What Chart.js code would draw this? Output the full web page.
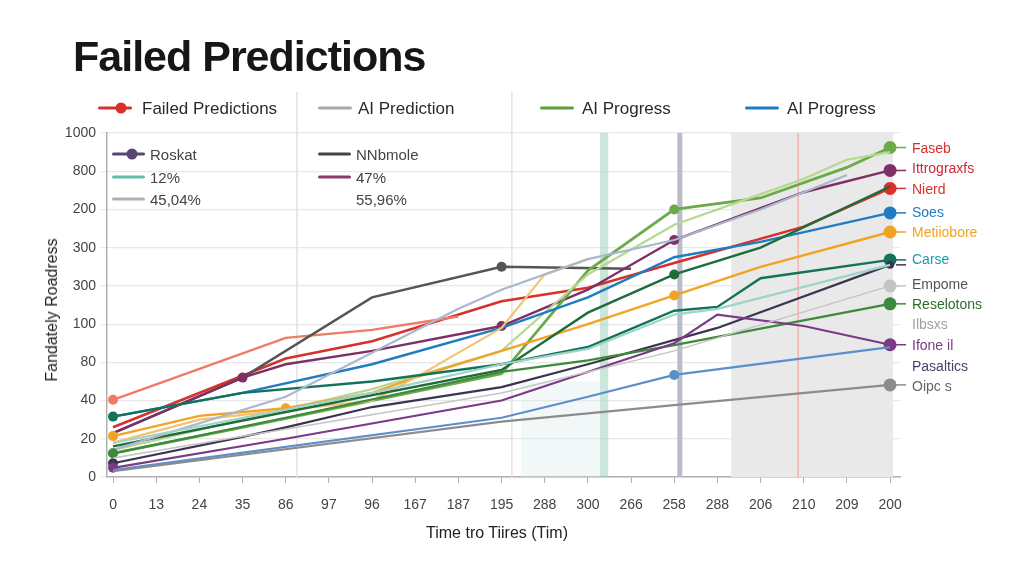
<!DOCTYPE html>
<html>
<head>
<meta charset="utf-8">
<script src="https://cdn.jsdelivr.net/npm/chart.js@4"></script>
<style>
  html, body { margin: 0; padding: 0; background: #fff; }
  #wrap { position: relative; width: 1024px; height: 576px; overflow: hidden; font-family: "Liberation Sans", Arial, sans-serif; color: #222; }
  #chart-box { position: absolute; left: 0; top: 0; width: 1024px; height: 576px; }
  .txt { position: absolute; white-space: nowrap; transform: translateY(-50%); }
  .title { left: 73px; top: 56px; font-size: 43px; font-weight: bold; letter-spacing: -1px; color: #161616; }
  .leg { font-size: 17px; color: #2a2a2a; }
  .leg2 { font-size: 15px; color: #444; }
  .sw { position: absolute; height: 3px; transform: translateY(-50%); border-radius: 2px; }
  .dot { position: absolute; width: 11px; height: 11px; border-radius: 50%; transform: translate(-50%, -50%); }
  .rl { font-size: 14px; left: 912px; }
  .axt { font-size: 16px; color: #222; }
</style>
</head>
<body>
<div id="wrap">
  <div id="chart-box"><canvas id="chart"></canvas></div>
  <div id="overlay"></div>
</div>
<script>
// ============== Data ==============
const xLabels = ["0", "13", "24", "35", "86", "97", "96", "167", "187", "195",
                 "288", "300", "266", "258", "288", "206", "210", "209", "200"];
// y tick labels, bottom to top (as printed on the axis)
const yLabels = ["0", "20", "40", "80", "100", "300", "300", "200", "800", "1000"];

// series values, one per x position (null = no point there)
const failedPredictions = [1.3, null, null, null, 3.1, null, 3.55, null, null, 4.6, null, 4.95, null, 5.6, null, null, 6.55, null, 7.55];
const failedEarly       = [2.02, null, null, null, 3.64, null, 3.85, null, 4.2, null, null, null, null, null, null, null, null, null, null];
const aiPrediction      = [1.15, null, null, 2.6, null, null, 4.7, null, null, 5.5, null, null, 5.45, null, null, null, null, null, null];
const rocket            = [1.15, null, null, 2.6, 2.95, null, 3.3, null, null, 3.95, null, 4.9, null, 6.2, null, null, 7.45, null, 8.02];
const aiProgressGreen   = [0.62, null, null, 1.3, null, null, 2.0, null, null, 2.7, null, 5.4, null, 7.0, null, 7.3, null, 8.1, 8.62];
const paleGreen         = [0.7, null, null, null, null, null, 2.3, null, null, 3.3, null, 5.3, null, 6.6, null, null, 7.8, 8.3, 8.5];
const aiProgressBlue    = [1.58, null, null, 2.2, null, null, 2.95, null, null, 3.9, null, 4.7, null, 5.75, null, 6.15, null, null, 6.91];
const metiobore         = [1.07, null, 1.6, null, 1.8, null, 2.2, 2.6, null, 3.3, null, 4.0, null, 4.75, null, 5.5, null, null, 6.41];
const lightOrange       = [0.9, null, 1.5, null, null, null, 2.0, 2.6, null, 3.9, 5.3, 5.7, null, null, null, null, null, null, null];
const carse             = [1.58, null, null, 2.2, null, null, 2.5, null, null, 2.95, null, 3.4, null, 4.35, 4.45, 5.2, null, null, 5.68];
const darkGreen         = [0.8, null, null, null, 1.7, null, null, null, null, 2.8, null, 4.3, null, 5.3, null, 6.0, null, null, 7.6];
const pasaltics         = [0.36, null, null, 1.05, 1.3, null, 1.83, null, null, 2.35, null, 2.95, null, null, 3.9, null, null, null, 5.55];
const paleTeal          = [0.89, null, null, null, null, null, 2.2, null, null, 2.95, null, 3.35, null, 4.25, 4.4, null, null, null, 5.55];
const slate             = [0.71, null, null, null, 2.1, null, null, null, 4.4, 4.9, null, 5.7, null, 6.2, null, 7.0, null, 7.9, null];
const reselotons        = [0.62, null, null, null, 1.55, null, null, null, null, 2.75, null, 3.05, null, 3.45, null, null, null, null, 4.53];
const ifone             = [0.24, null, null, null, 1.0, null, null, null, null, 2.0, null, null, null, 3.5, 4.25, null, 3.95, null, 3.46];
const steel             = [0.18, null, null, null, null, null, null, null, null, 1.55, null, 2.1, null, 2.67, null, null, null, null, 3.4];
const empome            = [0.5, null, null, null, null, null, null, null, null, 2.2, null, null, null, 3.3, null, null, null, null, 5.0];
const oipcs             = [0.15, null, null, null, null, null, null, null, null, 1.45, null, null, null, 1.88, null, null, null, null, 2.41];

// ============== Series styling ==============
const SERIES = [
  { data: oipcs,             color: "#8c8c8c", w: 2.2, dots: [18] },
  { data: steel,             color: "#5b8fcc", w: 2.2, dots: [13] },
  { data: empome,            color: "#c4c4c4", w: 1.5, dots: [18] },
  { data: ifone,             color: "#7a3a85", w: 2.2, dots: [0, 18] },
  { data: reselotons,        color: "#3d8a3d", w: 2.2, dots: [0, 18] },
  { data: paleTeal,          color: "#9fd3c9", w: 2.2, dots: [] },
  { data: pasaltics,         color: "#3b3550", w: 2.2, dots: [0, 18], r: 4 },
  { data: slate,             color: "#a9b8cc", w: 2.2, dots: [] },
  { data: darkGreen,         color: "#1e6b3c", w: 2.4, dots: [13] },
  { data: carse,             color: "#12735a", w: 2.4, dots: [0, 18] },
  { data: lightOrange,       color: "#f5c271", w: 2.2, dots: [] },
  { data: metiobore,         color: "#f2a324", w: 2.4, dots: [0, 4, 13, 18] },
  { data: aiProgressBlue,    color: "#1f7cc0", w: 2.4, dots: [18] },
  { data: paleGreen,         color: "#b5d98f", w: 2.2, dots: [] },
  { data: aiProgressGreen,   color: "#6aaa48", w: 2.8, dots: [0, 13, 18] },
  { data: rocket,            color: "#7d2f66", w: 2.4, dots: [3, 9, 13, 18] },
  { data: aiPrediction,      color: "#555555", w: 2.4, dots: [9] },
  { data: failedEarly,       color: "#ef7a66", w: 2.4, dots: [0] },
  { data: failedPredictions, color: "#d8302a", w: 2.6, dots: [18] },
];

// background bands / marker lines, in x-index units
const BANDS = [
  { from: 14.32, to: 18.07, color: "#e9e9e9" },
  { from: 9.45, to: 11.28, color: "rgba(215,235,232,0.35)", lowerFrom: 2.5 },
  { from: 11.28, to: 11.47, color: "rgba(160,210,188,0.55)" },
];
const VLINES = [
  { at: 4.26, color: "#e2e2e2", w: 1.5, up: 41 },
  { at: 9.24, color: "#e2e2e2", w: 1.5, up: 41 },
  { at: 13.13, color: "#b9bdca", w: 5, up: 0 },
  { at: 15.87, color: "#f2a7a7", w: 1.3, up: 0 },
];

// ============== Plugin: bands, lines, connectors ==============
const decoPlugin = {
  id: "deco",
  beforeDatasetsDraw(chart) {
    const { ctx, chartArea: a, scales: { x, y } } = chart;
    ctx.save();
    BANDS.forEach(b => {
      const x0 = x.getPixelForValue(b.from), x1 = x.getPixelForValue(b.to);
      const top = b.lowerFrom !== undefined ? y.getPixelForValue(b.lowerFrom) : a.top;
      ctx.fillStyle = b.color;
      ctx.fillRect(x0, top, x1 - x0, a.bottom - top);
    });
    VLINES.forEach(l => {
      const px = x.getPixelForValue(l.at);
      ctx.strokeStyle = l.color;
      ctx.lineWidth = l.w;
      ctx.beginPath();
      ctx.moveTo(px, a.top - l.up);
      ctx.lineTo(px, a.bottom);
      ctx.stroke();
    });
    ctx.restore();
  },
  afterDatasetsDraw(chart) {
    const { ctx, scales: { x, y } } = chart;
    ctx.save();
    SERIES.forEach(s => {
      const last = s.data[s.data.length - 1];
      if (last === null || !s.dots.includes(18)) return;
      const px = x.getPixelForValue(18), py = y.getPixelForValue(last);
      ctx.strokeStyle = s.color;
      ctx.lineWidth = 1.5;
      ctx.beginPath();
      ctx.moveTo(px + 6, py);
      ctx.lineTo(px + 16, py);
      ctx.stroke();
    });
    ctx.restore();
  }
};

// ============== Chart ==============
function renderChart() {
  const ctx = document.getElementById("chart").getContext("2d");
  new Chart(ctx, {
    type: "line",
    data: {
      datasets: SERIES.map(s => ({
        data: s.data.map((v, i) => v === null ? null : { x: i, y: v }).filter(p => p),
        borderColor: s.color,
        backgroundColor: s.color,
        borderWidth: s.w,
        tension: 0,
        fill: false,
        pointRadius: c => s.dots.includes(c.raw.x) ? (c.raw.x === 18 ? (s.r || 6.5) : 5) : 0,
        pointBorderWidth: 0,
      }))
    },
    options: {
      responsive: true,
      maintainAspectRatio: false,
      animation: false,
      layout: { padding: { top: 133, right: 124, left: 0, bottom: 0 } },
      scales: {
        x: {
          type: "linear",
          min: -0.14,
          max: 18.23,
          afterBuildTicks: sc => { sc.ticks = xLabels.map((_, i) => ({ value: i })); },
          afterFit: sc => { sc.height = 99; },
          ticks: {
            callback: v => xLabels[Math.round(v)],
            font: { family: "Liberation Sans", size: 14 },
            color: "#444",
            padding: 14,
            maxRotation: 0,
            autoSkip: false,
          },
          grid: { drawOnChartArea: false, drawTicks: true, tickLength: 6, color: "#b0b0b0" },
          border: { color: "#b0b0b0", width: 1.5 },
        },
        y: {
          type: "linear",
          min: 0,
          max: 9,
          afterBuildTicks: sc => { sc.ticks = yLabels.map((_, i) => ({ value: i })); },
          afterFit: sc => { sc.width = 107; },
          ticks: {
            callback: v => yLabels[Math.round(v)],
            font: { family: "Liberation Sans", size: 14 },
            color: "#444",
            padding: 5,
          },
          grid: { color: "#e8e8e8", lineWidth: 1.2, tickLength: 6, drawTicks: true },
          border: { color: "#b0b0b0", width: 1.5 },
        },
      },
      plugins: {
        legend: { display: false },
        tooltip: { enabled: false },
      }
    },
    plugins: [decoPlugin]
  });
}

// ============== Text overlays ==============
const TOP_LEGEND = [
  { label: "Failed Predictions", color: "#d8302a", x: 98, tx: 142, dot: true },
  { label: "AI Prediction",      color: "#a8a8a8", x: 318, tx: 358, dot: false },
  { label: "AI Progress",        color: "#5aa03c", x: 540, tx: 582, dot: false },
  { label: "AI Progress",        color: "#1f7cc0", x: 745, tx: 787, dot: false },
];
const INNER_LEGEND = [
  { label: "Roskat",  color: "#5a4670", x: 112, y: 154, dot: true },
  { label: "NNbmole", color: "#444444", x: 318, y: 154, dot: false },
  { label: "12%",     color: "#5fbfa8", x: 112, y: 177, dot: false },
  { label: "47%",     color: "#8b3a6a", x: 318, y: 177, dot: false },
  { label: "45,04%",  color: "#b0b0b0", x: 112, y: 199, dot: false },
  { label: "55,96%",  color: null,      x: 318, y: 199, dot: false },
];
const RIGHT_LABELS = [
  { label: "Faseb",       color: "#d8302a", y: 148 },
  { label: "Ittrograxfs", color: "#c8283a", y: 168 },
  { label: "Nierd",       color: "#d8302a", y: 189 },
  { label: "Soes",        color: "#1f7cc0", y: 212 },
  { label: "Metiiobore",  color: "#f2a324", y: 232 },
  { label: "Carse",       color: "#1a9bb0", y: 259 },
  { label: "Empome",      color: "#555555", y: 284 },
  { label: "Reselotons",  color: "#2e6b2e", y: 304 },
  { label: "Ilbsxs",      color: "#a0a0a8", y: 324 },
  { label: "Ifone il",    color: "#7a3a85", y: 345 },
  { label: "Pasaltics",   color: "#4a3f6a", y: 366 },
  { label: "Oipc s",      color: "#666666", y: 386 },
];

function renderOverlay() {
  const o = document.getElementById("overlay");
  let html = `<div class="txt title">Failed Predictions</div>`;
  TOP_LEGEND.forEach(l => {
    html += `<div class="sw" style="left:${l.x}px;top:108px;width:34px;background:${l.color}"></div>`;
    if (l.dot) html += `<div class="dot" style="left:${l.x + 23}px;top:108px;background:${l.color}"></div>`;
    html += `<div class="txt leg" style="left:${l.tx}px;top:109px">${l.label}</div>`;
  });
  INNER_LEGEND.forEach(l => {
    if (l.color) html += `<div class="sw" style="left:${l.x}px;top:${l.y}px;width:33px;background:${l.color}"></div>`;
    if (l.dot) html += `<div class="dot" style="left:${l.x + 20}px;top:${l.y}px;background:${l.color}"></div>`;
    html += `<div class="txt leg2" style="left:${l.x + 38}px;top:${l.y}px">${l.label}</div>`;
  });
  RIGHT_LABELS.forEach(l => {
    html += `<div class="txt rl" style="top:${l.y}px;color:${l.color}">${l.label}</div>`;
  });
  html += `<div class="txt axt" style="left:52px;top:310px;transform:translate(-50%,-50%) rotate(-90deg)">Fandately Roadress</div>`;
  html += `<div class="txt axt" style="left:497px;top:533px;transform:translate(-50%,-50%)">Time tro Tiires (Tim)</div>`;
  o.innerHTML = html;
}

document.addEventListener("DOMContentLoaded", () => {
  renderChart();
  renderOverlay();
});
</script>
</body>
</html>
